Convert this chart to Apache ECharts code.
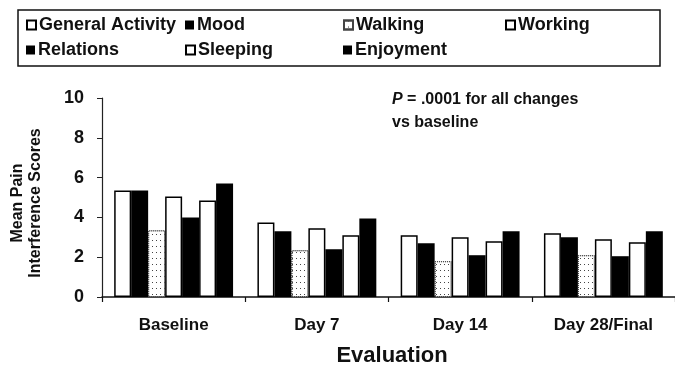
<!DOCTYPE html>
<html>
<head>
<meta charset="utf-8">
<script src="https://cdn.jsdelivr.net/npm/echarts@6/dist/echarts.min.js"></script>
<style>html,body{margin:0;padding:0;background:#fff}#c{width:675px;height:369px}</style>
</head>
<body>
<div id="c"></div>
<script>
var categories = ['Baseline', 'Day 7', 'Day 14', 'Day 28/Final'];
var seriesNames = ['General Activity', 'Mood', 'Walking', 'Working', 'Relations', 'Sleeping', 'Enjoyment'];
var generalActivity = [5.35, 3.75, 3.1, 3.2];
var mood = [5.35, 3.3, 2.7, 3.0];
var walking = [3.35, 2.35, 1.8, 2.1];
var working = [5.05, 3.45, 3.0, 2.9];
var relations = [4.0, 2.4, 2.1, 2.05];
var sleeping = [4.85, 3.1, 2.8, 2.75];
var enjoyment = [5.7, 3.95, 3.3, 3.3];
var yTicks = [0, 2, 4, 6, 8, 10];

var FONT = '"Liberation Sans", Arial, sans-serif';
var whiteStyle = {color: '#fff', borderColor: '#000', borderWidth: 1.5};
var blackStyle = {color: '#000', borderColor: '#000', borderWidth: 0};
var dotStyle = {
  color: '#fff', borderColor: '#444', borderWidth: 1, borderType: 'dotted',
  decal: {symbol: 'rect', symbolSize: 1, dashArrayX: [1, 3], dashArrayY: [1, 5], color: '#444', rotation: 0}
};
var styles = [whiteStyle, blackStyle, dotStyle, whiteStyle, blackStyle, whiteStyle, blackStyle];
var values = [generalActivity, mood, walking, working, relations, sleeping, enjoyment];

var series = seriesNames.map(function (n, i) {
  return {
    name: n, type: 'bar', data: values[i], barGap: '0%', barCategoryGap: '17%',
    itemStyle: styles[i], emphasis: {disabled: true}, animation: false
  };
});

var legendPos = [[26, 16], [185, 16], [343, 16], [505, 16], [26, 41], [185, 41], [343, 41]];
var legends = seriesNames.map(function (n, i) {
  return {
    data: [{name: n, icon: 'rect'}], left: legendPos[i][0], top: legendPos[i][1], padding: 0,
    itemWidth: 9, itemHeight: 9, selectedMode: false,
    textStyle: {fontFamily: FONT, fontWeight: 'bold', fontSize: 18, color: '#111', lineHeight: 18, padding: [0, 0, 0, -2]}
  };
});

var chart = echarts.init(document.getElementById('c'), null, {renderer: 'canvas'});
chart.setOption({
  animation: false,
  backgroundColor: '#fff',
  legend: legends,
  grid: {left: 102, right: -7, top: 98, bottom: 72, containLabel: false},
  xAxis: {
    type: 'category', data: categories,
    axisLine: {lineStyle: {color: '#111', width: 1.5}},
    axisTick: {show: true, length: 5, lineStyle: {color: '#111', width: 1.2}},
    axisLabel: {fontFamily: FONT, fontWeight: 'bold', fontSize: 17, color: '#111', margin: 20, lineHeight: 17}
  },
  yAxis: {
    type: 'value', min: 0, max: 10, interval: 2,
    axisLine: {show: true, lineStyle: {color: '#222', width: 1.2}},
    axisTick: {show: true, length: 5, lineStyle: {color: '#222'}},
    splitLine: {show: false},
    axisLabel: {fontFamily: FONT, fontWeight: 'bold', fontSize: 18, color: '#111', margin: 18,
      formatter: function (v) { return yTicks.indexOf(v) >= 0 ? String(v) : ''; }}
  },
  graphic: [
    {type: 'rect', shape: {x: 18, y: 10, width: 642, height: 56}, style: {fill: 'none', stroke: '#111', lineWidth: 1.5}, silent: true},
    {type: 'text', x: 392, y: 356, style: {text: 'Evaluation', font: 'bold 22px ' + FONT, fill: '#111', textAlign: 'center', textVerticalAlign: 'middle'}},
    {type: 'text', x: 27, y: 203, rotation: Math.PI / 2,
      style: {text: 'Mean Pain\nInterference Scores', font: 'bold 16px ' + FONT, fill: '#111', textAlign: 'center', textVerticalAlign: 'middle', lineHeight: 18}},
    {type: 'text', x: 392, y: 88,
      style: {text: '{i|P} = .0001 for all changes\nvs baseline', font: 'bold 16px ' + FONT, fill: '#111', lineHeight: 23,
        textVerticalAlign: 'top', rich: {i: {fontStyle: 'italic', fontWeight: 'bold', fontSize: 16, fontFamily: FONT, lineHeight: 23}}}}
  ],
  series: series
});
</script>
</body>
</html>
